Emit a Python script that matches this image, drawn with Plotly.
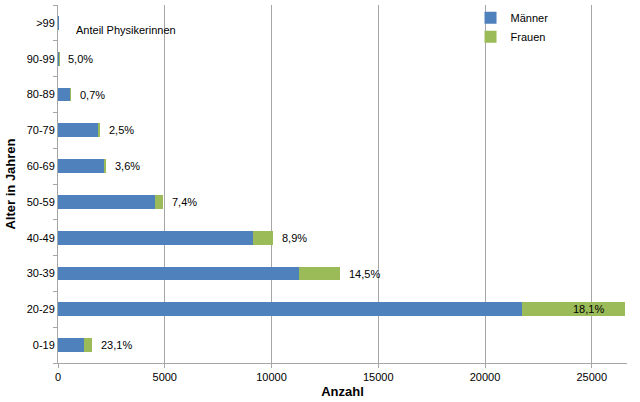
import plotly.graph_objects as go

categories = ["0-19", "20-29", "30-39", "40-49", "50-59", "60-69", "70-79", "80-89", "90-99", ">99"]
maenner = [1210, 21740, 11290, 9150, 4560, 2180, 1920, 600, 57, 6]
frauen = [363, 4800, 1920, 900, 365, 80, 50, 4, 3, 0]
anteil_labels = ["23,1%", "18,1%", "14,5%", "8,9%", "7,4%", "3,6%", "2,5%", "0,7%", "5,0%", ""]

BLUE = "#4F81BD"
GREEN = "#9BBB59"
FONT = "Liberation Sans, Arial, sans-serif"

fig = go.Figure()
fig.add_trace(go.Bar(y=categories, x=maenner, orientation="h", name="Männer",
                     marker=dict(color=BLUE, line=dict(width=0)), width=0.39))
fig.add_trace(go.Bar(y=categories, x=frauen, orientation="h", name="Frauen",
                     marker=dict(color=GREEN, line=dict(width=0)), width=0.39))

for cat, m, f, lab in zip(categories, maenner, frauen, anteil_labels):
    if not lab:
        continue
    total = m + f
    if total > 20000:
        fig.add_annotation(x=total, y=cat, text=lab, showarrow=False,
                           xanchor="right", xshift=-19, font=dict(size=11, color="#000000", family=FONT))
    else:
        fig.add_annotation(x=total, y=cat, text=lab, showarrow=False,
                           xanchor="left", xshift=7, font=dict(size=11, color="#000000", family=FONT))

fig.add_annotation(x=0, y=">99", text="Anteil Physikerinnen", showarrow=False,
                   xanchor="left", xshift=16, yshift=-7,
                   font=dict(size=11, color="#000000", family=FONT))

fig.update_layout(
    barmode="stack",
    width=640, height=402,
    margin=dict(l=58, r=13, t=5, b=39, autoexpand=False),
    paper_bgcolor="white", plot_bgcolor="white",
    font=dict(family=FONT, size=11, color="#000000"),
    showlegend=True,
    legend=dict(x=0.725, y=1.005, xanchor="left", yanchor="top", traceorder="normal",
                bgcolor="rgba(0,0,0,0)", font=dict(size=11, family=FONT),
                itemwidth=30, tracegroupgap=0),
)
fig.update_xaxes(range=[0, 26650], tickvals=[0, 5000, 10000, 15000, 20000, 25000],
                 ticktext=["0", "5000", "10000", "15000", "20000", "25000"],
                 showgrid=True, gridcolor="#A6A6A6", gridwidth=1,
                 showline=True, linecolor="#A6A6A6", linewidth=1,
                 ticks="outside", ticklen=4, tickcolor="#A6A6A6",
                 zeroline=False, automargin=False,
                 title=dict(text="<b>Anzahl</b>", font=dict(size=13, family=FONT), standoff=4),
                 tickfont=dict(size=11, family=FONT))
fig.update_yaxes(categoryorder="array", categoryarray=categories,
                 showline=True, linecolor="#A6A6A6", linewidth=1,
                 ticks="outside", ticklen=4, tickcolor="#A6A6A6", tickson="boundaries",
                 showgrid=False, automargin=False,
                 title=dict(text="<b>Alter in Jahren</b>", font=dict(size=13, family=FONT), standoff=8),
                 tickfont=dict(size=11, family=FONT))

fig.write_html("out.html", config={"displayModeBar": False},
               post_script="document.body.style.margin='0';")
